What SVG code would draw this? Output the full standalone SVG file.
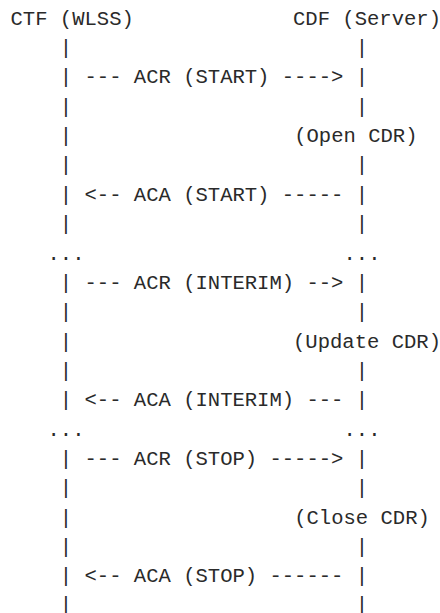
<svg xmlns="http://www.w3.org/2000/svg" width="440" height="613" viewBox="0 0 440 613">
<style>
text{font-family:"Liberation Mono","DejaVu Sans Mono",monospace;font-size:20.55px;fill:#2a2a2a;white-space:pre}
</style>
<rect width="440" height="613" fill="#fff"/>
<g id="ctf">
<text x="10.5" y="24.7">CTF (WLSS)</text>
<text x="59.8" y="54.05">|</text>
<text x="59.8" y="83.4">|</text>
<text x="59.8" y="112.75">|</text>
<text x="59.8" y="142.1">|</text>
<text x="59.8" y="171.45">|</text>
<text x="59.8" y="200.8">|</text>
<text x="59.8" y="230.15">|</text>
<text x="47.5" y="259.5">...</text>
<text x="59.8" y="288.85">|</text>
<text x="59.8" y="318.2">|</text>
<text x="59.8" y="347.55">|</text>
<text x="59.8" y="376.9">|</text>
<text x="59.8" y="406.25">|</text>
<text x="47.5" y="435.6">...</text>
<text x="59.8" y="464.95">|</text>
<text x="59.8" y="494.3">|</text>
<text x="59.8" y="523.65">|</text>
<text x="59.8" y="553">|</text>
<text x="59.8" y="582.35">|</text>
<text x="59.8" y="610.5">|</text>
</g>
<g id="cdf">
<text x="293" y="24.7">CDF (Server)</text>
<text x="355.8" y="54.05">|</text>
<text x="355.8" y="83.4">|</text>
<text x="355.8" y="112.75">|</text>
<text x="294.2" y="142.1">(Open CDR)</text>
<text x="355.8" y="171.45">|</text>
<text x="355.8" y="200.8">|</text>
<text x="355.8" y="230.15">|</text>
<text x="343.5" y="259.5">...</text>
<text x="355.8" y="288.85">|</text>
<text x="355.8" y="318.2">|</text>
<text x="293" y="347.55">(Update CDR)</text>
<text x="355.8" y="376.9">|</text>
<text x="355.8" y="406.25">|</text>
<text x="343.5" y="435.6">...</text>
<text x="355.8" y="464.95">|</text>
<text x="355.8" y="494.3">|</text>
<text x="294.2" y="523.65">(Close CDR)</text>
<text x="355.8" y="553">|</text>
<text x="355.8" y="582.35">|</text>
<text x="355.8" y="610.5">|</text>
</g>
<g id="connectors">
<text x="84.5" y="83.4">--- ACR (START) ----&gt;</text>
<text x="84.5" y="200.8">&lt;-- ACA (START) -----</text>
<text x="84.5" y="288.85">--- ACR (INTERIM) --&gt;</text>
<text x="84.5" y="406.25">&lt;-- ACA (INTERIM) ---</text>
<text x="84.5" y="464.95">--- ACR (STOP) -----&gt;</text>
<text x="84.5" y="582.35">&lt;-- ACA (STOP) ------</text>
</g>
</svg>
